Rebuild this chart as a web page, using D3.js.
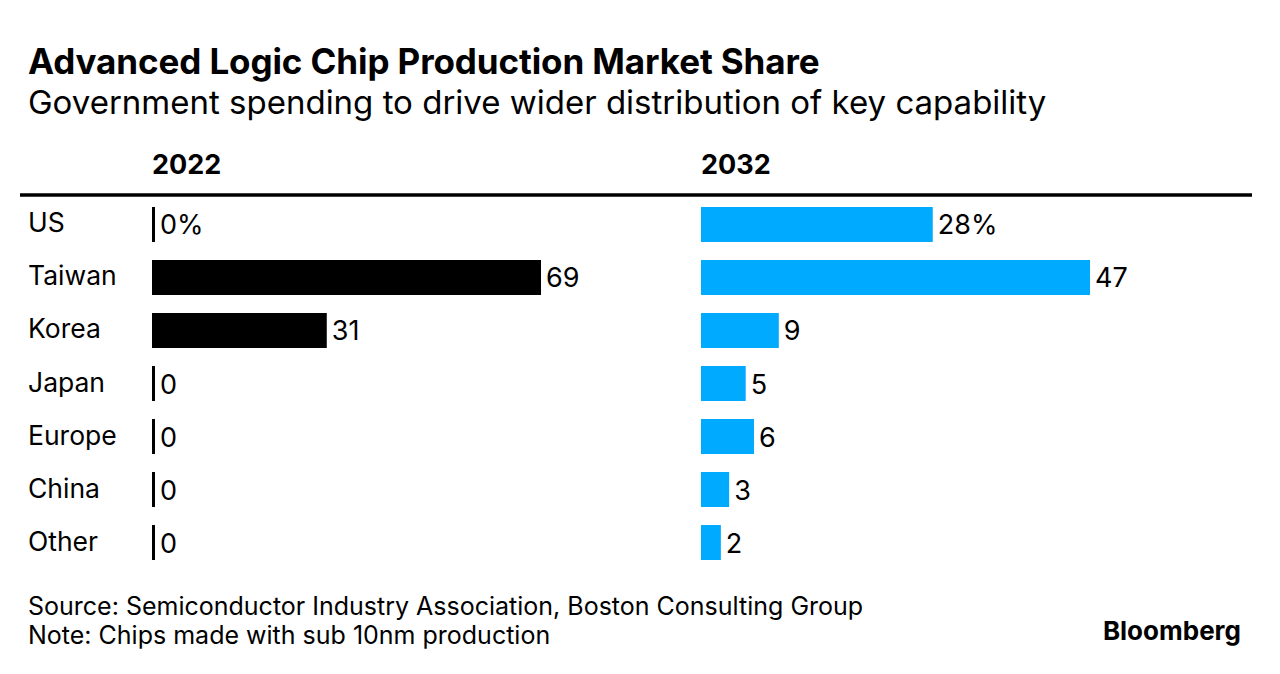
<!DOCTYPE html>
<html lang="en">
<head>
  <meta charset="UTF-8">
  <title>Advanced Logic Chip Production Market Share</title>
  <script src="https://d3js.org/d3.v7.min.js"></script>
  <style>
    body { margin: 0; background: #fff; }
    text { font-family: Inter, "Liberation Sans", Arial, sans-serif; fill: #000; }
  </style>
</head>
<body>
  <svg id="chart" width="1280" height="674"></svg>

  <script>
    const regions = ["US", "Taiwan", "Korea", "Japan", "Europe", "China", "Other"]
    const share2022 = [0, 69, 31, 0, 0, 0, 0]
    const share2032 = [28, 47, 9.4, 5.4, 6.4, 3.4, 2.4]
    const panelYears = ["2022", "2032"]

    const svg = d3.select("#chart")

    svg.append("text")
      .attr("x", 28).attr("y", 74)
      .style("font-size", "35px").style("font-weight", "bold")
      .style("letter-spacing", "-0.1px")
      .text("Advanced Logic Chip Production Market Share")

    svg.append("text")
      .attr("x", 28).attr("y", 114)
      .style("font-size", "33px")
      .text("Government spending to drive wider distribution of key capability")

    // header rule
    svg.append("line")
      .attr("x1", 20).attr("x2", 1252)
      .attr("y1", 195).attr("y2", 195)
      .attr("stroke", "#000").attr("stroke-width", 3.5)

    const y = d3.scaleBand()
      .domain(regions)
      .range([207, 560])
      .paddingInner(0.34)
      .paddingOuter(0)

    svg.append("g").selectAll("text")
      .data(regions)
      .join("text")
      .attr("x", 28)
      .attr("y", d => y(d) + y.bandwidth() / 2 + 8)
      .style("font-size", "26.5px")
      .text(d => d)

    const panels = [
      { year: panelYears[0], values: share2022, x0: 152, color: "#000" },
      { year: panelYears[1], values: share2032, x0: 701, color: "#00aaff" }
    ]

    panels.forEach(p => {
      const x = d3.scaleLinear()
        .domain([0, d3.max(p.values)])
        .range([0, 389])

      const g = svg.append("g").attr("transform", "translate(" + p.x0 + ",0)")

      g.append("text")
        .attr("x", 0).attr("y", 174)
        .style("font-size", "27px").style("font-weight", "bold")
        .text(p.year)

      const rows = regions.map((r, i) => ({ region: r, value: p.values[i], i: i }))

      g.selectAll("rect")
        .data(rows)
        .join("rect")
        .attr("x", 0)
        .attr("y", d => y(d.region))
        .attr("height", y.bandwidth())
        .attr("width", d => d.value === 0 ? 3 : x(d.value))
        .attr("fill", p.color)

      g.selectAll("text.val")
        .data(rows)
        .join("text")
        .attr("class", "val")
        .attr("x", d => (d.value === 0 ? 3 : x(d.value)) + 5)
        .attr("y", d => y(d.region) + y.bandwidth() / 2 + 10)
        .style("font-size", "27px")
        .text(d => Math.round(d.value) + (d.i === 0 ? "%" : ""))
    })

    svg.append("text")
      .attr("x", 28).attr("y", 615)
      .style("font-size", "25px")
      .text("Source: Semiconductor Industry Association, Boston Consulting Group")

    svg.append("text")
      .attr("x", 28).attr("y", 644)
      .style("font-size", "25px")
      .text("Note: Chips made with sub 10nm production")

    svg.append("text")
      .attr("x", 1241).attr("y", 640)
      .attr("text-anchor", "end")
      .style("font-size", "26px").style("font-weight", "bold")
      .text("Bloomberg")
  </script>
</body>
</html>
